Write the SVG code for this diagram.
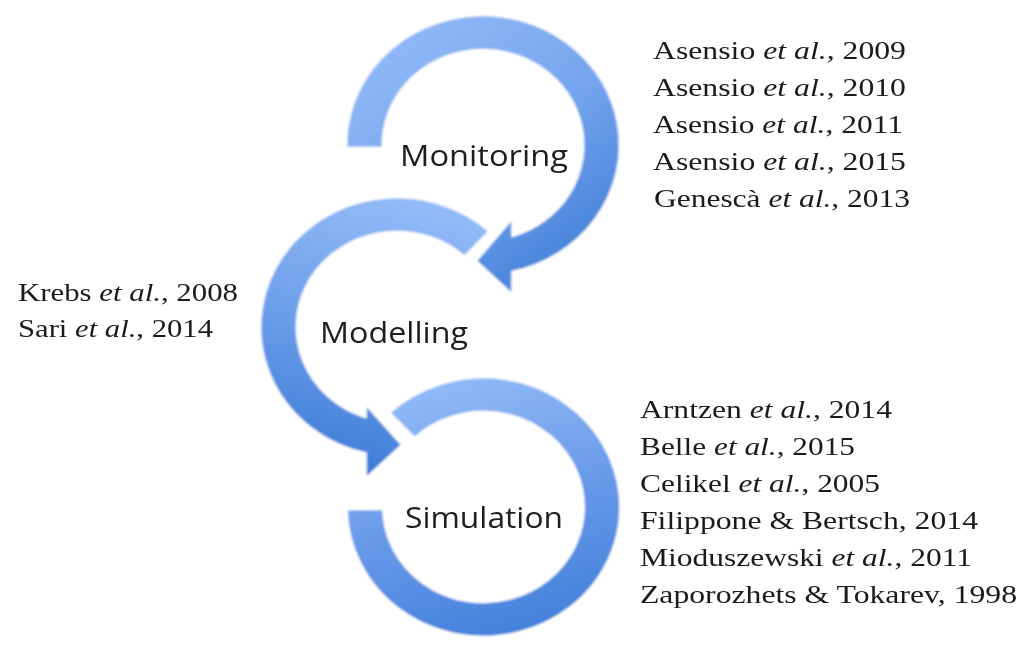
<svg xmlns="http://www.w3.org/2000/svg" width="1026" height="646" viewBox="0 0 1026 646">
  <defs>
    <linearGradient id="gTop" x1="0.15" y1="0" x2="0.85" y2="1">
      <stop offset="0" stop-color="#93bbf8"/>
      <stop offset="0.5" stop-color="#76a5ee"/>
      <stop offset="1" stop-color="#3b7bd6"/>
    </linearGradient>
    <linearGradient id="gMid" x1="0.6" y1="0" x2="0.4" y2="1">
      <stop offset="0" stop-color="#93bbf8"/>
      <stop offset="0.5" stop-color="#6b9de9"/>
      <stop offset="1" stop-color="#3b7bd6"/>
    </linearGradient>
    <linearGradient id="gBot" x1="0.3" y1="0" x2="0.6" y2="1">
      <stop offset="0" stop-color="#93bbf8"/>
      <stop offset="0.55" stop-color="#6698e8"/>
      <stop offset="1" stop-color="#4381db"/>
    </linearGradient>
    <filter id="soft" x="-10%" y="-10%" width="120%" height="120%">
      <feGaussianBlur stdDeviation="0.8"/>
    </filter>
  </defs>
  <style>
    .ring { stroke: #ffffff; stroke-width: 2.5; stroke-linejoin: miter; }
    .lbl { font-family: "Open Sans", "Liberation Sans", sans-serif; font-size: 29px; fill: #1e1e1e; }
    .cite { font-family: "Liberation Serif", "Times New Roman", serif; font-size: 26px; fill: #1a1a1a; }
    .it { font-style: italic; }
  </style>
  <rect width="1026" height="646" fill="#ffffff"/>

  <g id="connectors" filter="url(#soft)">
    <g id="ring-simulation" transform="translate(483.5,507) scale(1.054,1)">
      <path class="ring" fill="url(#gBot)" d="M -89.49 -94.30 A 130 130 0 1 1 -129.98 2 L -94.98 2 A 95 95 0 1 0 -65.39 -68.91 Z"/>
    </g>
    <g id="ring-modelling" transform="translate(397,327) scale(1.054,1)">
      <path class="ring" fill="url(#gMid)" d="M 87.83 -95.85 A 130 130 0 1 0 -30 126.5 L -30 152 L 5 118 L -30 77 L -30 90.1 A 95 95 0 1 1 64.18 -70.04 Z"/>
    </g>
    <g id="ring-monitoring" transform="translate(483,145) scale(1.054,1)">
      <path class="ring" fill="url(#gTop)" d="M -129.97 3 A 130 130 0 1 1 28 126.9 L 28 150 L -7 116 L 28 73 L 28 90.8 A 95 95 0 1 0 -94.95 3 Z"/>
    </g>
  </g>

  <g id="node-monitoring">
    <text class="lbl" x="400" y="166" textLength="168" lengthAdjust="spacingAndGlyphs">Monitoring</text>
  </g>
  <g id="node-modelling">
    <text class="lbl" x="320" y="343" textLength="148" lengthAdjust="spacingAndGlyphs">Modelling</text>
  </g>
  <g id="node-simulation">
    <text class="lbl" x="405" y="528" textLength="158" lengthAdjust="spacingAndGlyphs">Simulation</text>
  </g>

  <g id="refs-monitoring">
    <text class="cite" x="653" y="59" textLength="253" lengthAdjust="spacingAndGlyphs">Asensio <tspan class="it">et al.</tspan>, 2009</text>
    <text class="cite" x="653" y="96" textLength="253" lengthAdjust="spacingAndGlyphs">Asensio <tspan class="it">et al.</tspan>, 2010</text>
    <text class="cite" x="653" y="133" textLength="250" lengthAdjust="spacingAndGlyphs">Asensio <tspan class="it">et al.</tspan>, 2011</text>
    <text class="cite" x="653" y="170" textLength="253" lengthAdjust="spacingAndGlyphs">Asensio <tspan class="it">et al.</tspan>, 2015</text>
    <text class="cite" x="654" y="207" textLength="256" lengthAdjust="spacingAndGlyphs">Genescà <tspan class="it">et al.</tspan>, 2013</text>
  </g>

  <g id="refs-modelling">
    <text class="cite" x="18" y="301" textLength="220" lengthAdjust="spacingAndGlyphs">Krebs <tspan class="it">et al.</tspan>, 2008</text>
    <text class="cite" x="18" y="337" textLength="195" lengthAdjust="spacingAndGlyphs">Sari <tspan class="it">et al.</tspan>, 2014</text>
  </g>

  <g id="refs-simulation">
    <text class="cite" x="640" y="418" textLength="252" lengthAdjust="spacingAndGlyphs">Arntzen <tspan class="it">et al.</tspan>, 2014</text>
    <text class="cite" x="640" y="455" textLength="215" lengthAdjust="spacingAndGlyphs">Belle <tspan class="it">et al.</tspan>, 2015</text>
    <text class="cite" x="640" y="492" textLength="240" lengthAdjust="spacingAndGlyphs">Celikel <tspan class="it">et al.</tspan>, 2005</text>
    <text class="cite" x="640" y="529" textLength="338" lengthAdjust="spacingAndGlyphs">Filippone &amp; Bertsch, 2014</text>
    <text class="cite" x="640" y="566" textLength="332" lengthAdjust="spacingAndGlyphs">Mioduszewski <tspan class="it">et al.</tspan>, 2011</text>
    <text class="cite" x="640" y="603" textLength="377" lengthAdjust="spacingAndGlyphs">Zaporozhets &amp; Tokarev, 1998</text>
  </g>
</svg>
